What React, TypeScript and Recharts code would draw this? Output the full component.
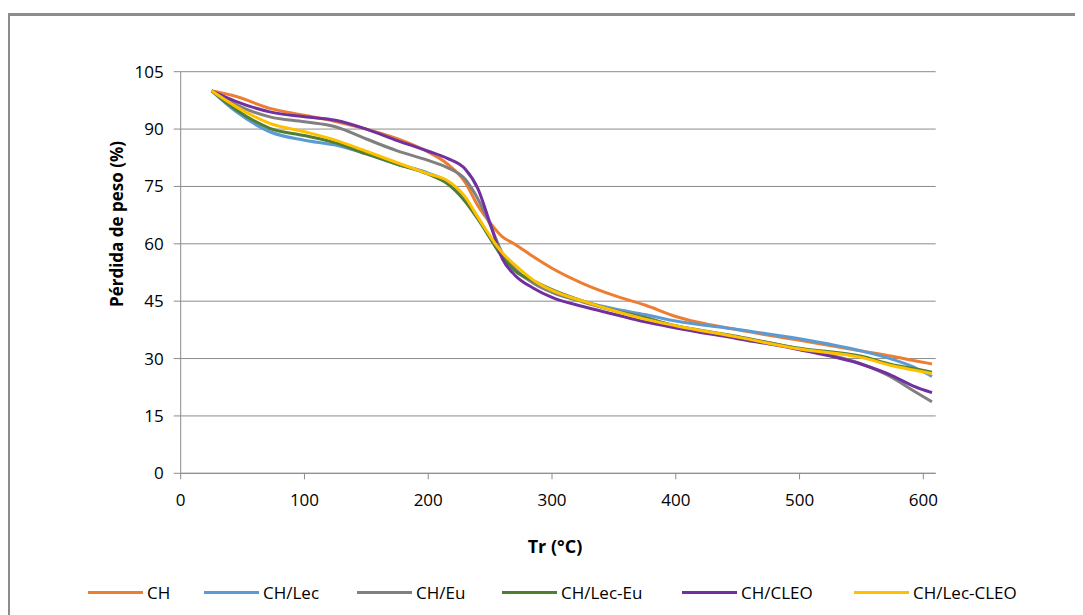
import { LineChart, Line, XAxis, YAxis, CartesianGrid } from 'recharts'

// Temperature samples (°C) shared by every series
const TEMPS = [25, 45, 72, 100, 125, 150, 175, 200, 215, 230, 240, 250, 260, 270, 285, 300, 325, 350, 375, 400, 450, 500, 550, 575, 592, 607]

const CH = [100, 98.5, 95.4, 93.6, 92, 90, 87.5, 84, 81, 76, 70, 65.5, 61.8, 59.9, 56.6, 53.6, 49.6, 46.5, 44, 41, 37.5, 34.8, 32, 30.6, 29.5, 28.6]
const CH_LEC = [100, 94.5, 89.3, 87.1, 85.8, 83.5, 80.8, 78.5, 76.3, 71.5, 67, 61.5, 56.5, 53, 50, 47.8, 45, 43, 41.5, 39.8, 37.6, 35.2, 32, 29.8, 27.8, 25.3]
const CH_EU = [100, 96.3, 93.2, 91.9, 90.6, 87.4, 84.3, 81.8, 80, 76.8, 71.8, 65, 57.5, 53.5, 49.7, 47.3, 44.8, 42.6, 40.8, 38.5, 35.6, 32.5, 28.6, 25, 21.6, 18.7]
const CH_LEC_EU = [100, 95, 90.2, 88.3, 86.4, 83.5, 80.8, 78.2, 75.8, 71, 66.5, 61.5, 56.5, 53, 50.3, 48, 45, 42.6, 40.6, 38.6, 35.8, 32.7, 30.6, 28.4, 27.4, 26.4]
const CH_CLEO = [100, 97.2, 94.5, 93.2, 92.3, 90, 87, 84.2, 82.4, 79.5, 74.5, 65.3, 56, 51.8, 48.4, 46, 43.6, 41.6, 39.6, 38, 35.2, 32.3, 28.5, 25.5, 22.8, 21.1]
const CH_LEC_CLEO = [100, 95.8, 91.5, 89.3, 87.1, 84.2, 81.2, 78.3, 76.6, 72.2, 67, 62, 57.6, 54.5, 50.5, 47.8, 45, 42.5, 40.3, 38.6, 35.6, 32.5, 30.3, 28.1, 27, 26.1]

const X_TICKS = [0, 100, 200, 300, 400, 500, 600]
const Y_TICKS = [0, 15, 30, 45, 60, 75, 90, 105]

const SERIES = [
  { key: 'ch', name: 'CH', values: CH, color: '#ED7D31', legendX: 80 },
  { key: 'chLec', name: 'CH/Lec', values: CH_LEC, color: '#5B9BD5', legendX: 196 },
  { key: 'chEu', name: 'CH/Eu', values: CH_EU, color: '#808080', legendX: 349 },
  { key: 'chLecEu', name: 'CH/Lec-Eu', values: CH_LEC_EU, color: '#507E32', legendX: 494 },
  { key: 'chCleo', name: 'CH/CLEO', values: CH_CLEO, color: '#7030A0', legendX: 674 },
  { key: 'chLecCleo', name: 'CH/Lec-CLEO', values: CH_LEC_CLEO, color: '#FFC000', legendX: 846 },
]

const FONT = '"Open Sans", "Noto Sans", sans-serif'
const AXIS_GRAY = '#8c8c8c'

export default function App() {
  const data = TEMPS.map((t, i) => {
    const row: Record<string, number> = { t }
    SERIES.forEach((s) => {
      row[s.key] = s.values[i]
    })
    return row
  })

  const tick = { fill: '#000', fontSize: 17, fontFamily: FONT }

  return (
    <div style={{ position: 'relative', width: 1075, height: 607, overflow: 'hidden', background: '#fff', fontFamily: FONT }}>
      {/* outer frame, only top/left edges fall inside the picture */}
      <div
        style={{
          position: 'absolute',
          left: -1,
          top: 5,
          width: 1200,
          height: 800,
          border: '3px solid #8c8c8c',
          boxSizing: 'border-box',
        }}
      />
      <LineChart
        width={1075}
        height={607}
        data={data}
        margin={{ top: 63.7, right: 147.3, left: 102.7, bottom: 101.7 }}
        style={{ position: 'absolute', left: 0, top: 0 }}
      >
        <CartesianGrid vertical={false} stroke={AXIS_GRAY} />
        <XAxis
          dataKey="t"
          type="number"
          domain={[0, 610]}
          ticks={X_TICKS}
          allowDataOverflow
          tick={tick}
          tickSize={6}
          tickMargin={15}
          stroke={AXIS_GRAY}
          height={40}
        />
        <YAxis
          type="number"
          domain={[0, 105]}
          ticks={Y_TICKS}
          tick={tick}
          tickSize={7}
          tickMargin={10}
          stroke={AXIS_GRAY}
          width={70}
        />
        {SERIES.map((s) => (
          <Line
            key={s.key}
            type="monotone"
            dataKey={s.key}
            name={s.name}
            stroke={s.color}
            strokeWidth={3}
            dot={false}
            isAnimationActive={false}
          />
        ))}
      </LineChart>

      <div
        style={{
          position: 'absolute',
          left: 108,
          top: 216,
          transform: 'translate(-50%, -50%) rotate(-90deg)',
          fontWeight: 700,
          fontSize: 17,
          whiteSpace: 'nowrap',
        }}
      >
        Pérdida de peso (%)
      </div>
      <div
        style={{
          position: 'absolute',
          left: 547,
          top: 538,
          transform: 'translate(-50%, -50%)',
          fontWeight: 700,
          fontSize: 18,
          whiteSpace: 'nowrap',
        }}
      >
        Tr (°C)
      </div>

      {SERIES.map((s) => (
        <div
          key={s.key}
          style={{
            position: 'absolute',
            left: s.legendX,
            top: 574,
            height: 20,
            display: 'flex',
            alignItems: 'center',
            fontSize: 17,
            whiteSpace: 'nowrap',
          }}
        >
          <span style={{ display: 'inline-block', width: 55, height: 3, background: s.color, marginRight: 4 }} />
          {s.name}
        </div>
      ))}
    </div>
  )
}
